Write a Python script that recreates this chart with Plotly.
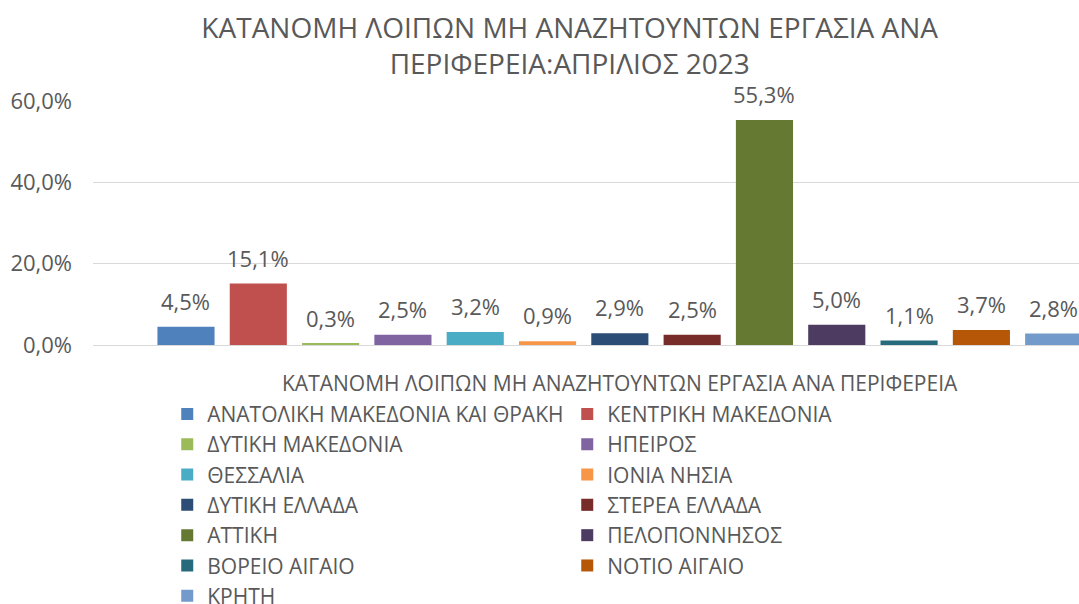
import plotly.graph_objects as go

# regions and share of other non-job-seekers (%), April 2023
regions = [
    'ΑΝΑΤΟΛΙΚΗ ΜΑΚΕΔΟΝΙΑ ΚΑΙ ΘΡΑΚΗ', 'ΚΕΝΤΡΙΚΗ ΜΑΚΕΔΟΝΙΑ', 'ΔΥΤΙΚΗ ΜΑΚΕΔΟΝΙΑ',
    'ΗΠΕΙΡΟΣ', 'ΘΕΣΣΑΛΙΑ', 'ΙΟΝΙΑ ΝΗΣΙΑ', 'ΔΥΤΙΚΗ ΕΛΛΑΔΑ', 'ΣΤΕΡΕΑ ΕΛΛΑΔΑ',
    'ΑΤΤΙΚΗ', 'ΠΕΛΟΠΟΝΝΗΣΟΣ', 'ΒΟΡΕΙΟ ΑΙΓΑΙΟ', 'ΝΟΤΙΟ ΑΙΓΑΙΟ', 'ΚΡΗΤΗ'
]
shares = [4.5, 15.1, 0.3, 2.5, 3.2, 0.9, 2.9, 2.5, 55.3, 5.0, 1.1, 3.7, 2.8]
colors = ['#4F81BD', '#C0504D', '#9BBB59', '#8064A2', '#4BACC6', '#F79646',
          '#2C4D75', '#772C2A', '#657933', '#4D3B62', '#276A7C', '#B65708', '#729ACA']
y_ticks = [0, 20, 40, 60]
y_ticktext = ['0,0%', '20,0%', '40,0%', '60,0%']

title_text = 'ΚΑΤΑΝΟΜΗ ΛΟΙΠΩΝ ΜΗ ΑΝΑΖΗΤΟΥΝΤΩΝ ΕΡΓΑΣΙΑ ΑΝΑ<br>ΠΕΡΙΦΕΡΕΙΑ:ΑΠΡΙΛΙΟΣ 2023'
legend_title = 'ΚΑΤΑΝΟΜΗ ΛΟΙΠΩΝ ΜΗ ΑΝΑΖΗΤΟΥΝΤΩΝ ΕΡΓΑΣΙΑ ΑΝΑ ΠΕΡΙΦΕΡΕΙΑ'

grey = '#595959'
font = 'Open Sans'

fig = go.Figure()
for name, val, col in zip(regions, shares, colors):
    fig.add_trace(go.Bar(
        x=[name], y=[val], name=name,
        marker=dict(color=col, line=dict(width=0)),
        width=0.79,
    ))
    # data label above each bar
    fig.add_annotation(
        x=name, y=val, text=f'{val:.1f}%'.replace('.', ','),
        showarrow=False, yanchor='bottom', yshift=9,
        font=dict(size=22, color=grey, family=font),
    )

# legend title, centred over the legend like in excel
fig.add_annotation(
    text=legend_title, xref='paper', yref='paper', x=0.5345, y=-0.156,
    xanchor='center', yanchor='middle', showarrow=False,
    font=dict(size=21, color=grey, family=font),
)

fig.update_layout(
    width=1079, height=604,
    barmode='overlay',
    paper_bgcolor='white', plot_bgcolor='white',
    margin=dict(l=93, r=0, t=101, b=259, autoexpand=False),
    title=dict(text=title_text, x=0.528, xanchor='center', y=0.937, yanchor='top',
               font=dict(size=28, color=grey, family=font)),
    font=dict(family=font, color=grey),
    showlegend=True,
    legend=dict(
        orientation='h', xref='container', yref='container',
        x=0.155, xanchor='left', y=0.348, yanchor='top',
        entrywidth=355, entrywidthmode='pixels',
        font=dict(size=21, color=grey, family=font),
        itemclick=False, tracegroupgap=0,
    ),
)
fig.update_xaxes(showticklabels=False, showgrid=False, showline=False,
                 zeroline=False, range=[-1.286, 12.35])
fig.update_yaxes(range=[0, 60], tickvals=y_ticks, ticktext=y_ticktext,
                 showgrid=True, gridcolor='#D9D9D9', gridwidth=1,
                 zeroline=True, zerolinecolor='#D9D9D9', zerolinewidth=1,
                 showline=False, ticks='', ticklabelstandoff=20,
                 tickfont=dict(size=22, color=grey, family=font))

# drop the default page margin so the figure sits at the window's corner
fig.write_html('out.html', config={'displayModeBar': False},
               post_script="document.body.style.margin='0';")
